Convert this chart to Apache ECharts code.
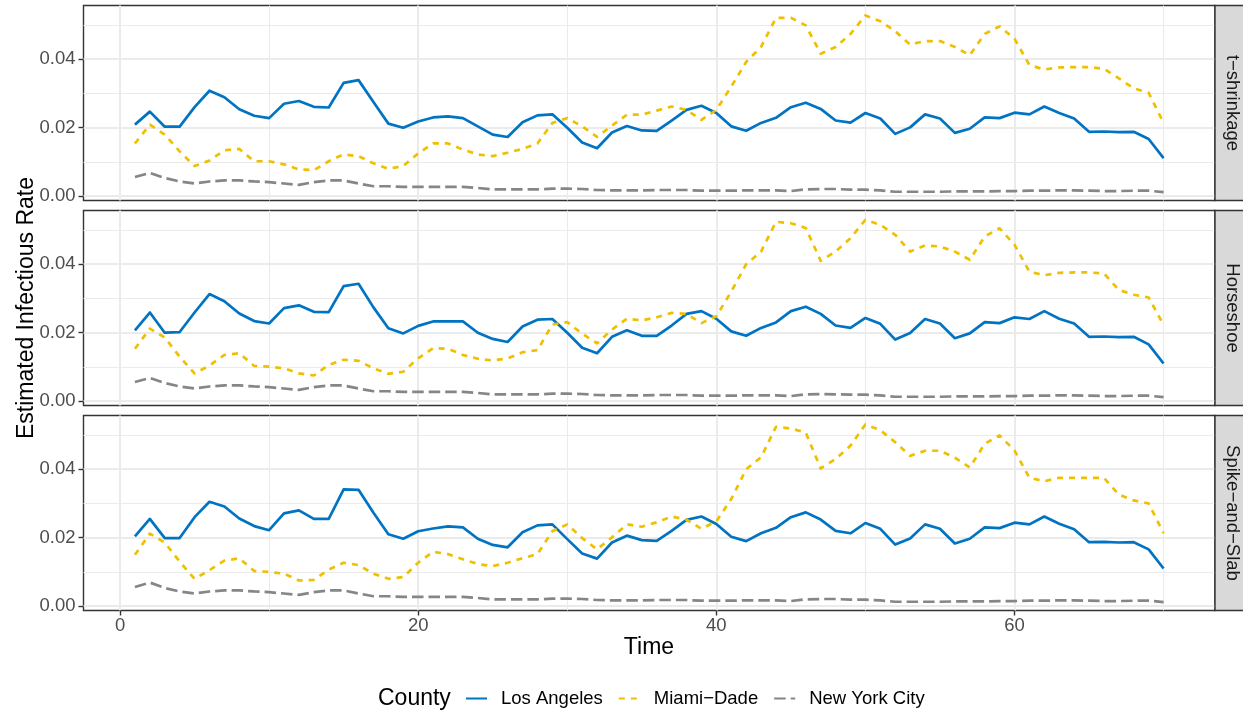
<!DOCTYPE html>
<html><head><meta charset="utf-8">
<script src="https://cdn.jsdelivr.net/npm/echarts@6/dist/echarts.min.js"></script>
<style>html,body{margin:0;padding:0;background:#fff}#c{width:1243px;height:715px}</style>
</head><body><div id="c"></div><script>
// ---------- data ----------
const time = Array.from({length: 70}, (_, i) => i + 1);
const panelNames = ['t\u2212shrinkage', 'Horseshoe', 'Spike\u2212and\u2212Slab'];
const counties = ['Los Angeles', 'Miami\u2212Dade', 'New York City'];
const xTickValues = [0, 20, 40, 60];
const xMinorValues = [10, 30, 50, 70];
const yTickValues = [0, 0.02, 0.04];
const yMinorValues = [0.01, 0.03, 0.05];

const laTShrink = [0.0209,0.0247,0.0203,0.0203,0.0260,0.0308,0.0289,0.0254,0.0235,0.0228,
  0.0270,0.0278,0.0261,0.0259,0.0331,0.0339,0.0275,0.0212,0.0200,0.0218,
  0.0230,0.0233,0.0228,0.0204,0.0180,0.0173,0.0216,0.0236,0.0239,0.0200,
  0.0157,0.0140,0.0186,0.0205,0.0192,0.0191,0.0221,0.0252,0.0264,0.0243,
  0.0204,0.0191,0.0214,0.0229,0.0260,0.0273,0.0255,0.0221,0.0215,0.0243,
  0.0227,0.0182,0.0201,0.0239,0.0227,0.0185,0.0197,0.0230,0.0228,0.0244,
  0.0239,0.0262,0.0243,0.0227,0.0188,0.0189,0.0187,0.0188,0.0167,0.0111];
const miamiTShrink = [0.0154,0.0209,0.0180,0.0131,0.0088,0.0104,0.0134,0.0138,0.0102,0.0102,
  0.0093,0.0078,0.0076,0.0102,0.0122,0.0117,0.0096,0.0080,0.0088,0.0125,
  0.0154,0.0154,0.0136,0.0122,0.0117,0.0127,0.0138,0.0154,0.0214,0.0228,
  0.0204,0.0173,0.0206,0.0238,0.0238,0.0250,0.0262,0.0252,0.0223,0.0252,
  0.0320,0.0392,0.0436,0.0521,0.0521,0.0499,0.0416,0.0436,0.0474,0.0528,
  0.0511,0.0482,0.0443,0.0453,0.0453,0.0436,0.0412,0.0474,0.0496,0.0460,
  0.0383,0.0370,0.0376,0.0377,0.0377,0.0372,0.0344,0.0315,0.0302,0.0214];
const nycTShrink = [0.0056,0.0068,0.0053,0.0043,0.0037,0.0043,0.0046,0.0046,0.0043,0.0041,
  0.0037,0.0033,0.0041,0.0046,0.0046,0.0037,0.0029,0.0029,0.0027,0.0027,
  0.0027,0.0027,0.0027,0.0024,0.0020,0.0020,0.0020,0.0020,0.0022,0.0022,
  0.0021,0.0018,0.0017,0.0017,0.0017,0.0018,0.0018,0.0018,0.0016,0.0016,
  0.0016,0.0017,0.0017,0.0017,0.0015,0.0020,0.0021,0.0021,0.0019,0.0019,
  0.0017,0.0013,0.0013,0.0013,0.0013,0.0014,0.0014,0.0014,0.0015,0.0015,
  0.0016,0.0016,0.0017,0.0017,0.0016,0.0015,0.0015,0.0016,0.0016,0.0012];

const laHorseshoe = [0.0207,0.0259,0.0200,0.0202,0.0259,0.0313,0.0292,0.0256,0.0234,0.0227,
  0.0272,0.0280,0.0261,0.0260,0.0336,0.0343,0.0274,0.0213,0.0198,0.0220,
  0.0233,0.0233,0.0233,0.0200,0.0182,0.0173,0.0218,0.0238,0.0240,0.0200,
  0.0156,0.0140,0.0188,0.0207,0.0191,0.0191,0.0221,0.0255,0.0263,0.0241,
  0.0204,0.0191,0.0214,0.0230,0.0263,0.0276,0.0255,0.0221,0.0214,0.0243,
  0.0226,0.0180,0.0199,0.0240,0.0227,0.0184,0.0198,0.0231,0.0228,0.0245,
  0.0240,0.0263,0.0241,0.0227,0.0188,0.0189,0.0187,0.0188,0.0166,0.0110];
const miamiHorseshoe = [0.0153,0.0212,0.0186,0.0130,0.0081,0.0104,0.0135,0.0140,0.0103,0.0101,
  0.0096,0.0081,0.0075,0.0106,0.0121,0.0118,0.0096,0.0080,0.0086,0.0125,
  0.0155,0.0153,0.0135,0.0124,0.0119,0.0125,0.0143,0.0149,0.0224,0.0231,
  0.0197,0.0169,0.0209,0.0241,0.0236,0.0245,0.0258,0.0255,0.0228,0.0248,
  0.0320,0.0400,0.0437,0.0524,0.0520,0.0506,0.0410,0.0437,0.0476,0.0530,
  0.0515,0.0486,0.0437,0.0455,0.0452,0.0437,0.0413,0.0481,0.0505,0.0457,
  0.0378,0.0368,0.0375,0.0376,0.0376,0.0373,0.0325,0.0311,0.0303,0.0223];
const nycHorseshoe = [0.0056,0.0068,0.0053,0.0043,0.0037,0.0043,0.0046,0.0046,0.0043,0.0041,
  0.0037,0.0033,0.0041,0.0046,0.0046,0.0037,0.0029,0.0029,0.0027,0.0027,
  0.0027,0.0027,0.0027,0.0024,0.0020,0.0020,0.0020,0.0020,0.0022,0.0022,
  0.0021,0.0018,0.0017,0.0017,0.0017,0.0018,0.0018,0.0018,0.0016,0.0016,
  0.0016,0.0017,0.0017,0.0017,0.0015,0.0020,0.0021,0.0020,0.0019,0.0019,
  0.0017,0.0013,0.0013,0.0013,0.0013,0.0014,0.0014,0.0014,0.0015,0.0015,
  0.0016,0.0016,0.0017,0.0017,0.0016,0.0015,0.0015,0.0016,0.0016,0.0012];

const laSpikeSlab = [0.0204,0.0255,0.0199,0.0199,0.0260,0.0305,0.0291,0.0256,0.0234,0.0222,
  0.0271,0.0280,0.0255,0.0255,0.0341,0.0340,0.0273,0.0210,0.0197,0.0219,
  0.0227,0.0233,0.0230,0.0197,0.0179,0.0172,0.0216,0.0236,0.0239,0.0196,
  0.0154,0.0139,0.0186,0.0206,0.0193,0.0191,0.0220,0.0252,0.0262,0.0240,
  0.0203,0.0190,0.0213,0.0229,0.0260,0.0274,0.0253,0.0220,0.0213,0.0243,
  0.0226,0.0180,0.0198,0.0239,0.0226,0.0183,0.0197,0.0230,0.0228,0.0244,
  0.0239,0.0262,0.0241,0.0225,0.0187,0.0188,0.0186,0.0187,0.0166,0.0110];
const miamiSpikeSlab = [0.0150,0.0212,0.0186,0.0130,0.0080,0.0105,0.0133,0.0140,0.0103,0.0100,
  0.0095,0.0075,0.0077,0.0107,0.0127,0.0120,0.0095,0.0080,0.0085,0.0127,
  0.0159,0.0152,0.0137,0.0123,0.0117,0.0127,0.0140,0.0152,0.0219,0.0239,
  0.0199,0.0166,0.0201,0.0239,0.0232,0.0245,0.0262,0.0253,0.0226,0.0248,
  0.0313,0.0400,0.0435,0.0524,0.0519,0.0507,0.0402,0.0430,0.0469,0.0531,
  0.0514,0.0479,0.0439,0.0454,0.0454,0.0434,0.0405,0.0474,0.0499,0.0455,
  0.0375,0.0365,0.0375,0.0375,0.0375,0.0375,0.0326,0.0309,0.0300,0.0213];
const nycSpikeSlab = [0.0056,0.0069,0.0053,0.0043,0.0037,0.0043,0.0046,0.0046,0.0043,0.0041,
  0.0037,0.0033,0.0041,0.0046,0.0046,0.0037,0.0029,0.0029,0.0027,0.0027,
  0.0027,0.0027,0.0027,0.0024,0.0020,0.0020,0.0020,0.0020,0.0022,0.0022,
  0.0021,0.0018,0.0017,0.0017,0.0017,0.0018,0.0018,0.0018,0.0016,0.0016,
  0.0016,0.0017,0.0017,0.0017,0.0015,0.0020,0.0021,0.0021,0.0019,0.0019,
  0.0017,0.0013,0.0013,0.0013,0.0013,0.0014,0.0014,0.0014,0.0015,0.0015,
  0.0016,0.0016,0.0017,0.0017,0.0016,0.0015,0.0015,0.0016,0.0016,0.0012];

const panelData = [
  [laTShrink, miamiTShrink, nycTShrink],
  [laHorseshoe, miamiHorseshoe, nycHorseshoe],
  [laSpikeSlab, miamiSpikeSlab, nycSpikeSlab]
];

// ---------- styling / layout ----------
const FONT = '"Liberation Sans", Arial, Helvetica, sans-serif';
const colors = ['#0073C2', '#EFC000', '#868686'];
const dashes = ['solid', [6, 6], [11.5, 5]];
const gridLeft = 83.5, gridWidth = 1131.5, gridHeight = 195;
const gridTops = [5.5, 210.5, 415.5];
const xMin = -2.45, xMax = 73.45, yMin = -0.00126, yMax = 0.0557;

const grids = [], xAxes = [], yAxes = [], series = [], graphics = [];
gridTops.forEach((top, i) => {
  const bottomPanel = i === gridTops.length - 1;
  grids.push({left: gridLeft, top: top, width: gridWidth, height: gridHeight,
    show: true, borderColor: '#333333', borderWidth: 1.4, backgroundColor: '#ffffff', containLabel: false});
  // major x
  xAxes.push({gridIndex: i, type: 'value', min: xMin, max: xMax, position: 'bottom',
    axisLine: {show: false, onZero: false},
    axisTick: {show: bottomPanel, customValues: xTickValues, length: 5, lineStyle: {color: '#333333', width: 1.4}},
    axisLabel: {show: bottomPanel, customValues: xTickValues, fontSize: 18.5, fontFamily: FONT, color: '#4D4D4D', margin: 6},
    splitLine: {show: true, lineStyle: {color: '#EBEBEB', width: 2}}});
  // minor x
  xAxes.push({gridIndex: i, type: 'value', min: xMin, max: xMax, position: 'top',
    axisLine: {show: false, onZero: false},
    axisTick: {show: false, customValues: xMinorValues},
    axisLabel: {show: false, customValues: xMinorValues},
    splitLine: {show: true, lineStyle: {color: '#EBEBEB', width: 1.1}}});
  // major y
  yAxes.push({gridIndex: i, type: 'value', min: yMin, max: yMax, position: 'left',
    axisLine: {show: false, onZero: false},
    axisTick: {show: true, customValues: yTickValues, length: 5, lineStyle: {color: '#333333', width: 1.4}},
    axisLabel: {show: true, customValues: yTickValues, fontSize: 18.5, fontFamily: FONT, color: '#4D4D4D', margin: 8,
      formatter: v => Number(v).toFixed(2)},
    splitLine: {show: true, lineStyle: {color: '#EBEBEB', width: 2}}});
  // minor y
  yAxes.push({gridIndex: i, type: 'value', min: yMin, max: yMax, position: 'right',
    axisLine: {show: false, onZero: false},
    axisTick: {show: false, customValues: yMinorValues},
    axisLabel: {show: false, customValues: yMinorValues},
    splitLine: {show: true, lineStyle: {color: '#EBEBEB', width: 1.1}}});

  panelData[i].forEach((vals, k) => {
    series.push({
      type: 'line', name: counties[k], xAxisIndex: 2 * i, yAxisIndex: 2 * i,
      data: time.map((t, j) => [t, vals[j]]),
      symbol: 'none', showSymbol: false, silent: true, animation: false,
      color: colors[k],
      lineStyle: {color: colors[k], width: 2.7, type: dashes[k], cap: 'butt', join: 'round'},
      z: 3 + k
    });
  });

  // strip
  graphics.push({type: 'rect', shape: {x: 1215, y: top, width: 40, height: gridHeight},
    style: {fill: '#D9D9D9', stroke: '#333333', lineWidth: 1.4}, z: 10});
  graphics.push({type: 'text', x: 1232, y: top + gridHeight / 2, rotation: -Math.PI / 2,
    style: {text: panelNames[i], font: '18.5px ' + FONT, fill: '#1A1A1A', textAlign: 'center', textVerticalAlign: 'middle'}, z: 11});
});

graphics.push({type: 'text', x: 27, y: 308, rotation: Math.PI / 2,
  style: {text: 'Estimated Infectious Rate', font: '23px ' + FONT, fill: '#000000', textAlign: 'center', textVerticalAlign: 'middle'}, z: 11});
graphics.push({type: 'text', x: 649, y: 648,
  style: {text: 'Time', font: '23px ' + FONT, fill: '#000000', textAlign: 'center', textVerticalAlign: 'middle'}, z: 11});
graphics.push({type: 'text', x: 378, y: 699,
  style: {text: 'County', font: '23px ' + FONT, fill: '#000000', textAlign: 'left', textVerticalAlign: 'middle'}, z: 11});

const chart = echarts.init(document.getElementById('c'), null, {renderer: 'canvas'});
chart.setOption({
  backgroundColor: '#ffffff',
  animation: false,
  grid: grids,
  xAxis: xAxes,
  yAxis: yAxes,
  series: series,
  legend: {
    data: counties, left: 465, top: 689, padding: 0, orient: 'horizontal',
    itemWidth: 21, itemHeight: 14, itemGap: 15,
    itemStyle: {opacity: 0, color: 'transparent', borderColor: 'transparent', borderWidth: 0},
    textStyle: {fontSize: 18.5, fontFamily: FONT, color: '#000000', padding: [0, 0, 0, 9]},
    selectedMode: false
  },
  graphic: graphics
});
</script></body></html>
